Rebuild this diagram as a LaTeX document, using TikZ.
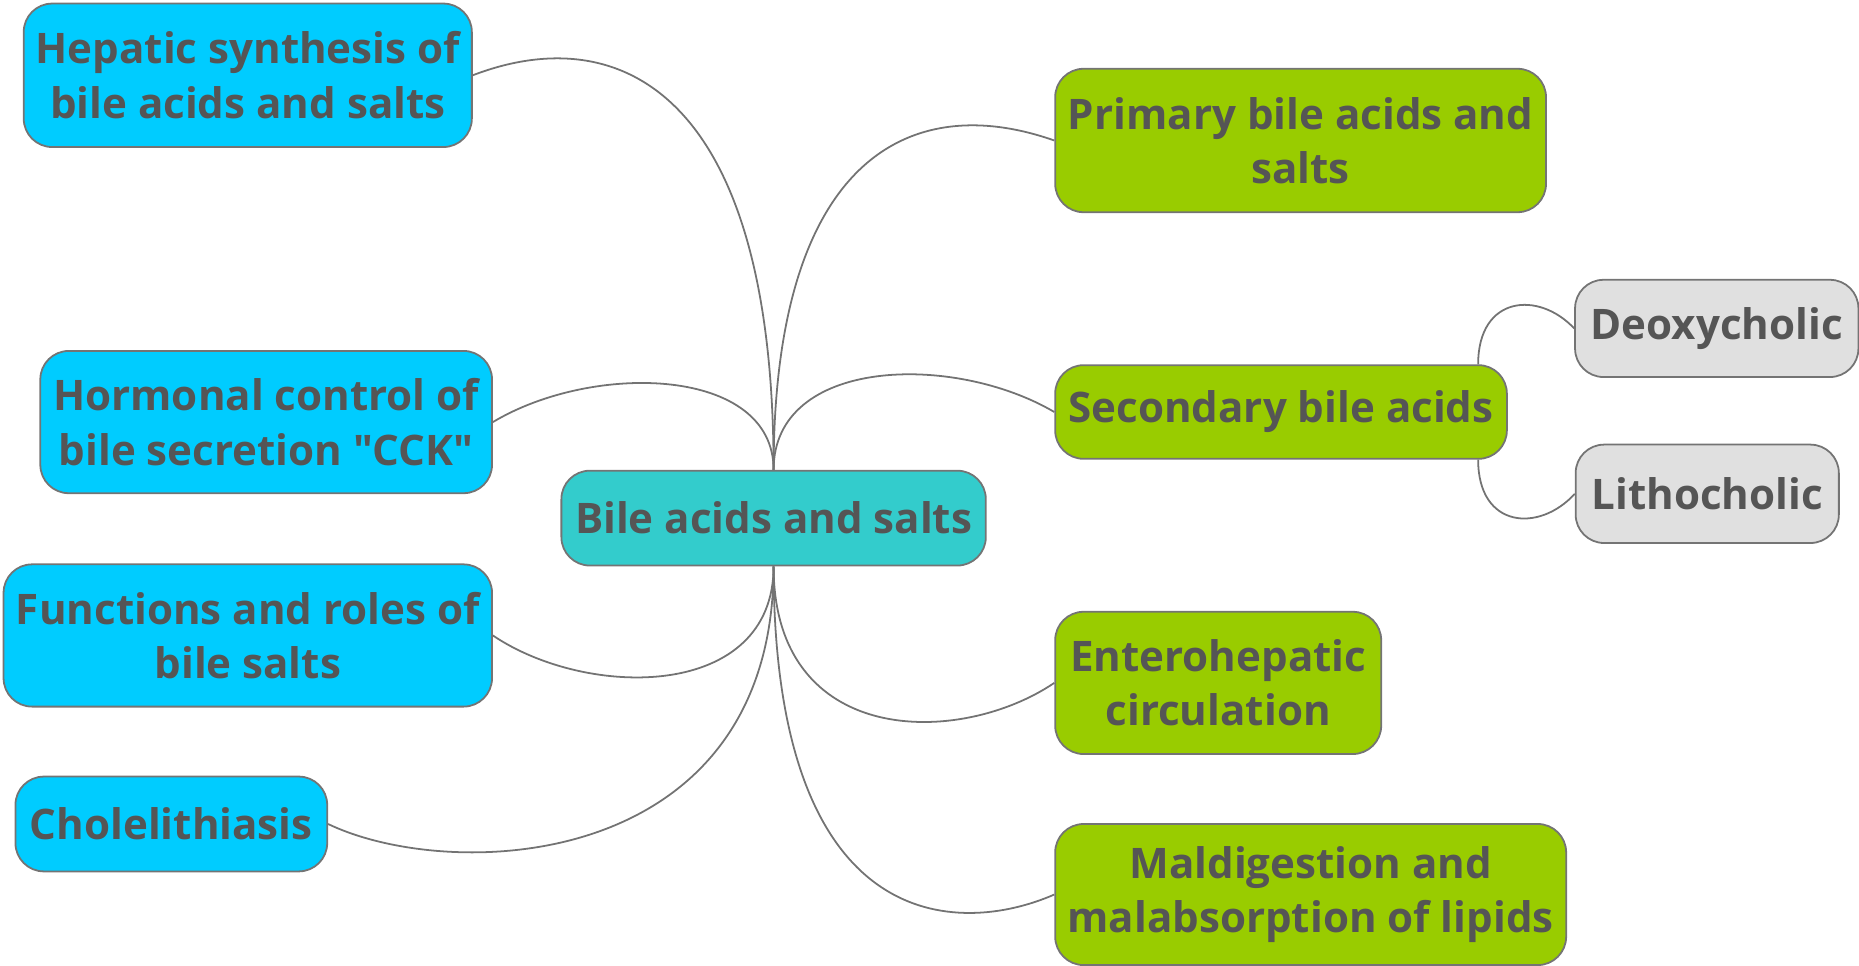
\documentclass[tikz,border=0pt]{standalone}
\usepackage{fontspec}
\setmainfont{Open Sans}[Ligatures=TeXOff]
\usetikzlibrary{calc}
\definecolor{txt}{HTML}{555555}
\definecolor{bordc}{HTML}{747474}
\definecolor{linec}{HTML}{737373}
\definecolor{cyanc}{HTML}{00CCFF}
\definecolor{tealc}{HTML}{33CCCC}
\definecolor{greenc}{HTML}{99CC00}
\definecolor{grayc}{HTML}{E0E0E0}
\begin{document}
\begin{tikzpicture}[x=1pt,y=-1pt,
  box/.style={draw=bordc, line width=1.5pt, rounded corners=24pt, align=center, text=txt,
    font=\fontsize{35.5}{46}\selectfont\bfseries, inner sep=0pt},
  link/.style={draw=linec, line width=1.5pt}]
\useasboundingbox (0,0) rectangle (1568,814);
% left nodes
\node[box, fill=cyanc, minimum width=378pt, minimum height=121pt] (hep) at (209,63.5) {Hepatic synthesis of\\bile acids and salts};
\node[box, fill=cyanc, minimum width=381pt, minimum height=120pt] (hor) at (224.5,356) {Hormonal control of\\bile secretion "CCK"};
\node[box, fill=cyanc, minimum width=412pt, minimum height=120pt] (fun) at (209,536) {Functions and roles of\\bile salts};
\node[box, fill=cyanc, minimum width=263pt, minimum height=80pt] (cho) at (144.5,695) {Cholelithiasis};
% center
\node[box, fill=tealc, minimum width=358pt, minimum height=80pt] (cen) at (652.5,437) {Bile acids and salts};
% right nodes
\node[box, fill=greenc, minimum width=414pt, minimum height=121pt] (pri) at (1097,118.5) {Primary bile acids and\\salts};
\node[box, fill=greenc, minimum width=381pt, minimum height=79pt] (sec) at (1080.5,347.5) {Secondary bile acids};
\node[box, fill=greenc, minimum width=275pt, minimum height=120pt] (ent) at (1027.5,576) {Enterohepatic\\circulation};
\node[box, fill=greenc, minimum width=431pt, minimum height=119pt] (mal) at (1105.5,754.5) {Maldigestion and\\malabsorption of lipids};
\node[box, fill=grayc, minimum width=239pt, minimum height=82pt] (deo) at (1448,277) {Deoxycholic};
\node[box, fill=grayc, minimum width=222pt, minimum height=83pt] (lit) at (1440,416.5) {Lithocholic};
% connectors
\draw[link] (cen.north) .. controls ($(cen.north)+(0,-317)$) and ($(hep.east)+(125,-48)$) .. (hep.east);
\draw[link] (cen.north) .. controls ($(cen.north)+(0,-87)$) and ($(hor.east)+(85,-51)$) .. (hor.east);
\draw[link] (cen.south) .. controls ($(cen.south)+(0,113)$) and ($(fun.east)+(80,54)$) .. (fun.east);
\draw[link] (cen.south) .. controls ($(cen.south)+(0,258)$) and ($(cho.east)+(104,50)$) .. (cho.east);
\draw[link] (cen.north) .. controls ($(cen.north)+(0,-262)$) and ($(pri.west)+(-122,-43)$) .. (pri.west);
\draw[link] (cen.north) .. controls ($(cen.north)+(0,-95)$) and ($(sec.west)+(-85,-50)$) .. (sec.west);
\draw[link] (cen.south) .. controls ($(cen.south)+(0,153)$) and ($(ent.west)+(-80,54)$) .. (ent.west);
\draw[link] (cen.south) .. controls ($(cen.south)+(0,313)$) and ($(mal.west)+(-80,35)$) .. (mal.west);
\coordinate (sectop) at ($(sec.north east)+(-25,0)$);
\coordinate (secbot) at ($(sec.south east)+(-25,0)$);
\draw[link] (sectop) .. controls ($(sectop)+(0,-58)$) and ($(deo.west)+(-30,-32)$) .. (deo.west);
\draw[link] (secbot) .. controls ($(secbot)+(0,58)$) and ($(lit.west)+(-30,33)$) .. (lit.west);
\end{tikzpicture}
\end{document}
